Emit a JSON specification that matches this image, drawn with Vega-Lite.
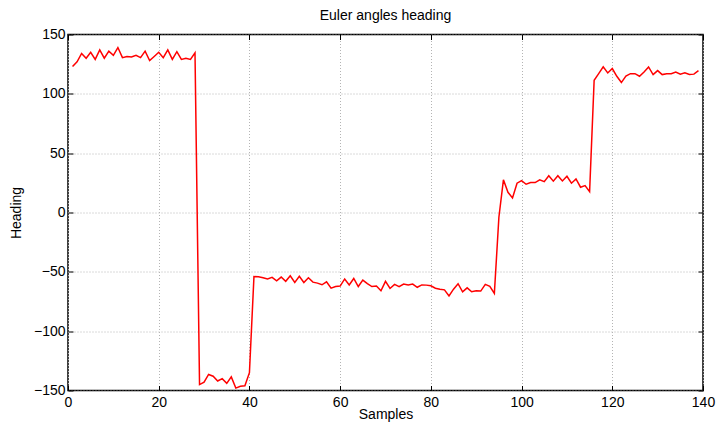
{
  "$schema": "https://vega.github.io/schema/vega-lite/v6.json",
  "width": 635,
  "height": 356,
  "autosize": "none",
  "padding": {"left": 68, "top": 34.5, "right": 14, "bottom": 35.5},
  "background": "white",
  "title": {"text": "Euler angles heading", "fontSize": 14, "font": "Liberation Sans", "fontWeight": "normal", "color": "black", "offset": 5, "anchor": "middle"},
  "config": {
    "view": {"stroke": "black", "strokeWidth": 1.5},
    "font": "Liberation Sans",
    "axis": {"domain": false, "labelFont": "Liberation Sans", "labelFontSize": 14, "labelColor": "black", "titleFont": "Liberation Sans", "titleFontSize": 14, "titleFontWeight": "normal", "titleColor": "black", "tickColor": "black", "tickWidth": 1, "tickSize": -5, "gridColor": "#b4b4b4", "gridDash": [1, 2], "gridWidth": 1}
  },
  "data": {"values": [
    {"sample": 1, "heading": 123}, {"sample": 2, "heading": 127}, {"sample": 3, "heading": 134}, {"sample": 4, "heading": 130}, {"sample": 5, "heading": 135},
    {"sample": 6, "heading": 129}, {"sample": 7, "heading": 137}, {"sample": 8, "heading": 130}, {"sample": 9, "heading": 136}, {"sample": 10, "heading": 132.5},
    {"sample": 11, "heading": 139}, {"sample": 12, "heading": 130.5}, {"sample": 13, "heading": 131.5}, {"sample": 14, "heading": 131}, {"sample": 15, "heading": 132.5},
    {"sample": 16, "heading": 130.5}, {"sample": 17, "heading": 136}, {"sample": 18, "heading": 128}, {"sample": 19, "heading": 131.5}, {"sample": 20, "heading": 135},
    {"sample": 21, "heading": 130.5}, {"sample": 22, "heading": 137}, {"sample": 23, "heading": 129}, {"sample": 24, "heading": 135.5}, {"sample": 25, "heading": 129},
    {"sample": 26, "heading": 130}, {"sample": 27, "heading": 129}, {"sample": 28, "heading": 134.5}, {"sample": 29, "heading": -145}, {"sample": 30, "heading": -143},
    {"sample": 31, "heading": -136.5}, {"sample": 32, "heading": -138}, {"sample": 33, "heading": -142}, {"sample": 34, "heading": -140}, {"sample": 35, "heading": -144},
    {"sample": 36, "heading": -138.5}, {"sample": 37, "heading": -148}, {"sample": 38, "heading": -146.5}, {"sample": 39, "heading": -146}, {"sample": 40, "heading": -135},
    {"sample": 41, "heading": -54}, {"sample": 42, "heading": -54.2}, {"sample": 43, "heading": -55}, {"sample": 44, "heading": -56}, {"sample": 45, "heading": -54.7},
    {"sample": 46, "heading": -57.5}, {"sample": 47, "heading": -54.4}, {"sample": 48, "heading": -58}, {"sample": 49, "heading": -53.3}, {"sample": 50, "heading": -58.9},
    {"sample": 51, "heading": -53.8}, {"sample": 52, "heading": -59}, {"sample": 53, "heading": -55}, {"sample": 54, "heading": -58.7}, {"sample": 55, "heading": -59.5},
    {"sample": 56, "heading": -60.9}, {"sample": 57, "heading": -58.4}, {"sample": 58, "heading": -63.8}, {"sample": 59, "heading": -62.4}, {"sample": 60, "heading": -62},
    {"sample": 61, "heading": -56}, {"sample": 62, "heading": -61}, {"sample": 63, "heading": -55.6}, {"sample": 64, "heading": -62.4}, {"sample": 65, "heading": -57},
    {"sample": 66, "heading": -60}, {"sample": 67, "heading": -62.4}, {"sample": 68, "heading": -62}, {"sample": 69, "heading": -66}, {"sample": 70, "heading": -58},
    {"sample": 71, "heading": -64}, {"sample": 72, "heading": -60.6}, {"sample": 73, "heading": -62.5}, {"sample": 74, "heading": -60.3}, {"sample": 75, "heading": -61},
    {"sample": 76, "heading": -60.3}, {"sample": 77, "heading": -63}, {"sample": 78, "heading": -61}, {"sample": 79, "heading": -61.2}, {"sample": 80, "heading": -61.8},
    {"sample": 81, "heading": -63.8}, {"sample": 82, "heading": -64.6}, {"sample": 83, "heading": -65.2}, {"sample": 84, "heading": -70.3}, {"sample": 85, "heading": -64.6},
    {"sample": 86, "heading": -60}, {"sample": 87, "heading": -66.8}, {"sample": 88, "heading": -63.5}, {"sample": 89, "heading": -66.8}, {"sample": 90, "heading": -66},
    {"sample": 91, "heading": -66.2}, {"sample": 92, "heading": -60.6}, {"sample": 93, "heading": -62.3}, {"sample": 94, "heading": -68.2}, {"sample": 95, "heading": -4},
    {"sample": 96, "heading": 27.5}, {"sample": 97, "heading": 17}, {"sample": 98, "heading": 12.2}, {"sample": 99, "heading": 24.7}, {"sample": 100, "heading": 26.9},
    {"sample": 101, "heading": 23.8}, {"sample": 102, "heading": 25.2}, {"sample": 103, "heading": 25.2}, {"sample": 104, "heading": 27.5}, {"sample": 105, "heading": 26},
    {"sample": 106, "heading": 31}, {"sample": 107, "heading": 26.4}, {"sample": 108, "heading": 31}, {"sample": 109, "heading": 26.6}, {"sample": 110, "heading": 30.5},
    {"sample": 111, "heading": 24.7}, {"sample": 112, "heading": 28.3}, {"sample": 113, "heading": 21.3}, {"sample": 114, "heading": 22.7}, {"sample": 115, "heading": 17.6},
    {"sample": 116, "heading": 111.4}, {"sample": 117, "heading": 117}, {"sample": 118, "heading": 122.7}, {"sample": 119, "heading": 117.6}, {"sample": 120, "heading": 121.3},
    {"sample": 121, "heading": 114.8}, {"sample": 122, "heading": 109.5}, {"sample": 123, "heading": 115}, {"sample": 124, "heading": 117}, {"sample": 125, "heading": 117},
    {"sample": 126, "heading": 114.8}, {"sample": 127, "heading": 118.4}, {"sample": 128, "heading": 122.7}, {"sample": 129, "heading": 116.2}, {"sample": 130, "heading": 119.6},
    {"sample": 131, "heading": 116.2}, {"sample": 132, "heading": 117}, {"sample": 133, "heading": 117}, {"sample": 134, "heading": 118.4}, {"sample": 135, "heading": 116.6},
    {"sample": 136, "heading": 117.7}, {"sample": 137, "heading": 116.3}, {"sample": 138, "heading": 116.6}, {"sample": 139, "heading": 119.6}
  ]},
  "layer": [
    {
      "mark": {"type": "line", "color": "#ff0000", "strokeWidth": 1.5},
      "encoding": {
        "x": {"field": "sample", "type": "quantitative", "scale": {"domain": [0, 140], "nice": false, "zero": false},
              "axis": {"orient": "bottom", "title": "Samples", "values": [0, 20, 40, 60, 80, 100, 120, 140], "grid": true, "labelPadding": 10, "titlePadding": -2, "labelFlush": false}},
        "y": {"field": "heading", "type": "quantitative", "scale": {"domain": [-150, 150], "nice": false, "zero": false},
              "axis": {"orient": "left", "title": "Heading", "values": [-150, -100, -50, 0, 50, 100, 150], "grid": true, "labelPadding": 8, "titlePadding": 10, "labelFlush": false}}
      }
    },
    {
      "mark": {"type": "line", "opacity": 0},
      "encoding": {
        "x": {"field": "sample", "type": "quantitative", "axis": {"orient": "top", "title": null, "labels": false, "grid": false, "values": [0, 20, 40, 60, 80, 100, 120, 140]}},
        "y": {"field": "heading", "type": "quantitative", "axis": {"orient": "right", "title": null, "labels": false, "grid": false, "values": [-150, -100, -50, 0, 50, 100, 150]}}
      }
    }
  ],
  "resolve": {"axis": {"x": "independent", "y": "independent"}}
}
